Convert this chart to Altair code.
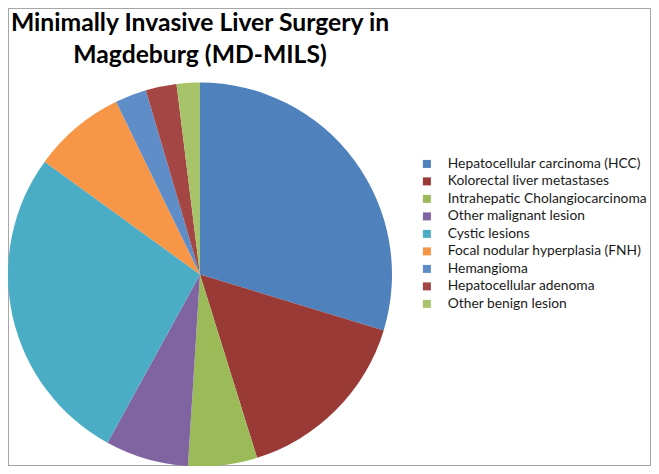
import altair as alt
import pandas as pd

categories = [
    "Hepatocellular carcinoma (HCC)",
    "Kolorectal liver metastases",
    "Intrahepatic Cholangiocarcinoma",
    "Other malignant lesion",
    "Cystic lesions",
    "Focal nodular hyperplasia (FNH)",
    "Hemangioma",
    "Hepatocellular adenoma",
    "Other benign lesion",
]
shares = [29.7, 15.5, 5.8, 7.0, 27.0, 7.8, 2.65, 2.6, 1.95]
colors = ["#4F81BD", "#993A37", "#9BBB59", "#8064A2", "#4BACC6",
          "#F79646", "#5F8DC8", "#A44744", "#A7C46A"]
title_lines = ["Minimally Invasive Liver Surgery in", "Magdeburg (MD-MILS)"]

df = pd.DataFrame({"category": categories, "share": shares,
                   "order": list(range(len(categories)))})

W, H = 643, 458
FONT = "Lato"

pie = alt.Chart(df).mark_arc(radius=192, stroke=None).encode(
    theta=alt.Theta("share:Q", stack=True),
    order=alt.Order("order:Q"),
    color=alt.Color(
        "category:N",
        scale=alt.Scale(domain=categories, range=colors),
        sort=categories,
        legend=alt.Legend(
            title=None, orient="none", legendX=412, legendY=149,
            symbolType="square", symbolSize=64, symbolStrokeWidth=0,
            labelFont=FONT, labelFontSize=13.8, labelColor="#1a1a1a",
            labelOffset=14, rowPadding=2.5, padding=0, labelLimit=300,
        ),
    ),
    x=alt.value(192),
    y=alt.value(266.5),
)

title = alt.Chart(pd.DataFrame({"t": [0]})).mark_text(
    font=FONT, fontSize=24.7, fontWeight="bold", align="center",
    baseline="alphabetic", lineHeight=32, color="#000000",
).encode(
    x=alt.value(192), y=alt.value(23), text=alt.value(title_lines)
)

chart = alt.layer(pie, title).properties(
    width=W, height=H, autosize=alt.AutoSizeParams(type="none"),
    padding=0,
).configure_view(stroke="#A6A6A6", strokeWidth=2)

chart.save("out.html", embed_options={"renderer": "svg", "actions": False})
